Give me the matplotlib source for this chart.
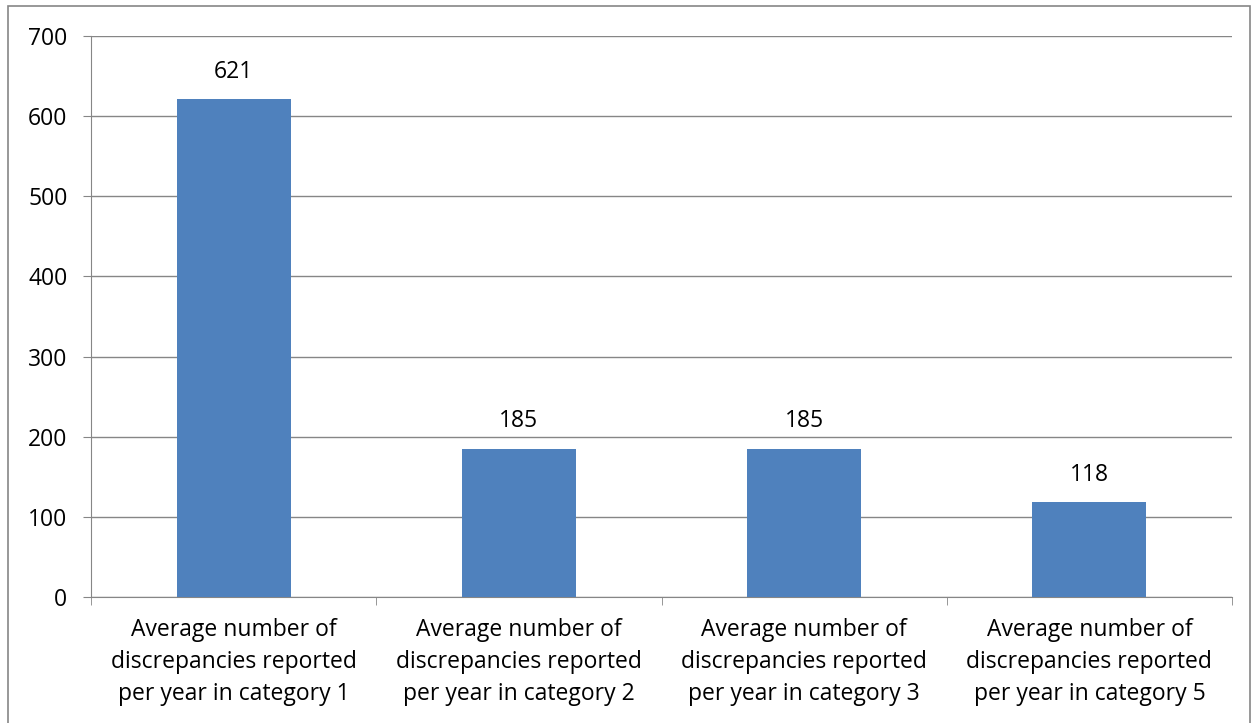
import numpy as np
import matplotlib.pyplot as plt
from matplotlib.patches import Rectangle

categories = [
    "Average number of\ndiscrepancies reported\nper year in category 1",
    "Average number of\ndiscrepancies reported\nper year in category 2",
    "Average number of\ndiscrepancies reported\nper year in category 3",
    "Average number of\ndiscrepancies reported\nper year in category 5",
]
values = [621, 185, 185, 118]
yticks = [0, 100, 200, 300, 400, 500, 600, 700]

plt.rcParams['font.family'] = ['Open Sans', 'DejaVu Sans']
grid_col = '#868686'
fs = 16.5

fig = plt.figure(figsize=(12.58, 7.23), dpi=100)
ax = fig.add_axes([91/1258, 1-597/723, (1232-91)/1258, (597-36)/723])

x = np.arange(len(values))
ax.bar(x, values, width=0.4, color='#4F81BD', zorder=3)
for xi, v in zip(x, values):
    ax.annotate(str(v), (xi, v), xytext=(0, 11), textcoords='offset points',
                ha='center', va='bottom', fontsize=fs, color='black')

ax.set_xlim(-0.5, len(values) - 0.5)
ax.set_ylim(0, 700)
ax.set_yticks(yticks)
ax.set_yticklabels([str(t) for t in yticks], fontsize=fs)
ax.yaxis.grid(True, color=grid_col, linewidth=1, zorder=0)
ax.set_xticks(x)
ax.set_xticklabels(categories, fontsize=fs, linespacing=1.45)
ax.tick_params(axis='x', length=0, pad=15)
ax.set_xticks(np.arange(len(values) + 1) - 0.5, minor=True)
ax.tick_params(axis='x', which='minor', length=6, color=grid_col, direction='out')
ax.tick_params(axis='y', length=6, color=grid_col, pad=11)

for s in ['top', 'right']:
    ax.spines[s].set_visible(False)
for s in ['left', 'bottom']:
    ax.spines[s].set_color(grid_col)

fig.patches.append(Rectangle((8/1258, -0.01), (1250-8)/1258, 1.01 - 6/723,
                             transform=fig.transFigure, fill=False,
                             edgecolor=grid_col, linewidth=1.2))

fig.savefig('out.png', dpi=100)
